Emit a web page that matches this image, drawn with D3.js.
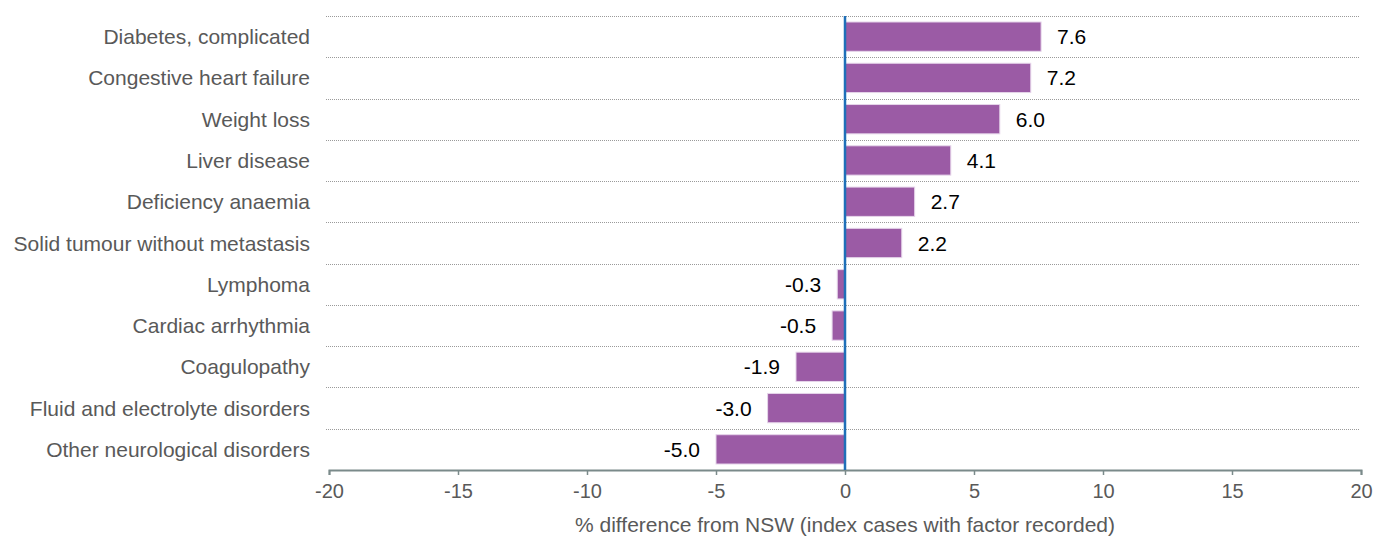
<!DOCTYPE html>
<html>
<head>
<meta charset="utf-8">
<script src="https://cdn.jsdelivr.net/npm/d3@7"></script>
<style>
  body { margin: 0; background: #fff; }
  svg { font-family: "Liberation Sans", Arial, sans-serif; }
</style>
</head>
<body>
<script>
// Categories, top to bottom
var categories = [
  "Diabetes, complicated",
  "Congestive heart failure ",
  "Weight loss",
  "Liver disease",
  "Deficiency anaemia",
  "Solid tumour without metastasis",
  "Lymphoma",
  "Cardiac arrhythmia",
  "Coagulopathy",
  "Fluid and electrolyte disorders",
  "Other neurological disorders"
];
// % difference from NSW
var values = [7.6, 7.2, 6.0, 4.1, 2.7, 2.2, -0.3, -0.5, -1.9, -3.0, -5.0];
var xTicks = [-20, -15, -10, -5, 0, 5, 10, 15, 20];
var xTitle = "% difference from NSW (index cases with factor recorded)";

var width = 1375, height = 538;
var margin = {top: 16, right: 14, bottom: 68, left: 329};

var svg = d3.select("body").append("svg")
  .attr("width", width)
  .attr("height", height);

var x = d3.scaleLinear().domain([-20, 20]).range([margin.left, width - margin.right]);
var y = d3.scaleBand().domain(categories)
  .range([margin.top, height - margin.bottom])
  .paddingInner(0.29).paddingOuter(0.145);

// dotted gridlines at band boundaries
var step = y.step();
var bounds = d3.range(categories.length).map(function(i) { return margin.top + i * step; });
svg.append("g").selectAll("line")
  .data(bounds)
  .enter().append("line")
  .attr("x1", x(-20) - 3).attr("x2", x(20) - 1)
  .attr("y1", function(d) { return Math.round(d) + 0.5; })
  .attr("y2", function(d) { return Math.round(d) + 0.5; })
  .attr("stroke", "#9a9a9a")
  .attr("stroke-width", 1)
  .attr("stroke-dasharray", "1,1");

// bars
svg.append("g").selectAll("rect")
  .data(values)
  .enter().append("rect")
  .attr("x", function(d) { return x(Math.min(0, d)); })
  .attr("y", function(d, i) { return y(categories[i]); })
  .attr("width", function(d) { return Math.abs(x(d) - x(0)); })
  .attr("height", y.bandwidth())
  .attr("fill", "#9b5ba5")
  .attr("stroke", "#e6d5ea")
  .attr("stroke-width", 1);

// value labels
svg.append("g").selectAll("text")
  .data(values)
  .enter().append("text")
  .attr("x", function(d) { return d >= 0 ? x(d) + 16 : x(d) - 16; })
  .attr("y", function(d, i) { return y(categories[i]) + y.bandwidth() / 2; })
  .attr("dy", "0.36em")
  .attr("text-anchor", function(d) { return d >= 0 ? "start" : "end"; })
  .attr("font-size", 21)
  .attr("fill", "#000")
  .text(function(d) { return d.toFixed(1); });

// category labels
svg.append("g").selectAll("text")
  .data(categories)
  .enter().append("text")
  .attr("x", 310)
  .attr("y", function(d) { return y(d) + y.bandwidth() / 2; })
  .attr("dy", "0.36em")
  .attr("text-anchor", "end")
  .attr("font-size", 21)
  .attr("fill", "#595959")
  .text(function(d) { return d; });

// x axis
var axisY = height - margin.bottom;
var xAxis = svg.append("g")
  .attr("transform", "translate(0," + axisY + ")")
  .call(d3.axisBottom(x).tickValues(xTicks).tickSize(5).tickPadding(9)
    .tickFormat(function(d) { return String(d); }));
xAxis.select(".domain").attr("stroke", "#7a8a8a").attr("stroke-width", 2);
xAxis.selectAll(".tick line").attr("stroke", "#7a8a8a").attr("stroke-width", 1.5);
xAxis.selectAll(".tick text")
  .attr("font-size", 20)
  .attr("font-family", "Liberation Sans, Arial, sans-serif")
  .attr("fill", "#595959");

// zero line
svg.append("line")
  .attr("x1", x(0)).attr("x2", x(0))
  .attr("y1", margin.top).attr("y2", axisY)
  .attr("stroke", "#1f6fb8")
  .attr("stroke-width", 2.5);

// axis title
svg.append("text")
  .attr("x", x(0))
  .attr("y", 532)
  .attr("text-anchor", "middle")
  .attr("font-size", 21)
  .attr("fill", "#595959")
  .text(xTitle);
</script>
</body>
</html>
